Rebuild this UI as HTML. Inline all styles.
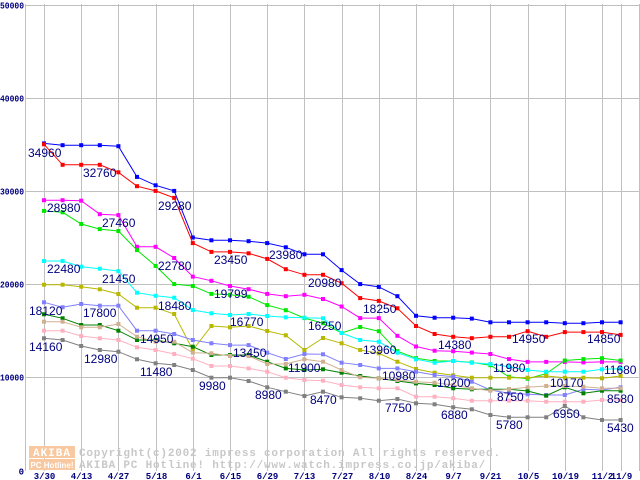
<!DOCTYPE html>
<html><head><meta charset="utf-8">
<style>
html,body{margin:0;padding:0;background:#fff;}
svg{display:block;}
</style></head>
<body>
<svg id="chart" width="640" height="480" xmlns="http://www.w3.org/2000/svg">
  <g id="grid"></g>
  <g id="yaxis"></g>
  <g id="xaxis"></g>
  <g id="watermark">
    <rect x="29" y="446" width="46" height="12" fill="#f8c8a0"/>
    <text x="52" y="456" text-anchor="middle" font-family="Liberation Mono, monospace" font-weight="bold" font-size="11" fill="#fff" letter-spacing="1">AKIBA</text>
    <rect x="29" y="459" width="46" height="11" fill="#f8c8a0"/>
    <text x="52" y="468" text-anchor="middle" font-family="Liberation Sans, sans-serif" font-weight="bold" font-size="8" fill="#fff">PC Hotline!</text>
    <text x="79" y="456" font-family="Liberation Mono, monospace" font-weight="bold" font-size="11" fill="#c8c8c8" letter-spacing="0.8">Copyright(c)2002 impress corporation All rights reserved.</text>
    <text x="79" y="468" font-family="Liberation Mono, monospace" font-weight="bold" font-size="11" fill="#c8c8c8" letter-spacing="0.8">AKIBA PC Hotline!  http://www.watch.impress.co.jp/akiba/</text>
  </g>
  <g id="series"></g>
  <g id="labels"></g>
</svg>
<script>
const yTicks = [0, 10000, 20000, 30000, 40000, 50000];
const xTickLabels = ["3/30","4/13","4/27","5/18","6/1","6/15","6/29","7/13","7/27","8/10","8/24","9/7","9/21","10/5","10/19","11/2","11/9"];
const xTickIndex = [0,2,4,6,8,10,12,14,16,18,20,22,24,26,28,30,31];
const seriesColors = ["#0000ff","#ff0000","#ff00ff","#00e800","#00ffff","#b8b800","#8080ff","#008000","#d0b090","#ffb0c0","#808080"];
const seriesNames = ["blue","red","magenta","green","cyan","olive","periwinkle","dark-green","tan","pink","gray"];
const sBlue = [35100,34900,34900,34900,34800,31500,30600,30000,25000,24700,24700,24600,24400,23950,23200,23200,21500,20000,19700,18700,16600,16400,16400,16300,15900,15900,15900,15900,15800,15800,15900,15900];
const sRed = [35000,32800,32800,32800,32000,30500,30000,29250,24400,23450,23450,23300,22700,21600,21000,21000,20100,18500,18200,17400,15500,14650,14350,14200,14350,14350,14950,14350,14850,14850,14850,14550];
const sMagenta = [29000,29000,28950,27500,27400,24000,24000,22800,20800,20350,19800,19450,18950,18700,18850,18400,17600,16350,16350,14450,13300,12850,12800,12650,12500,11950,11650,11650,11650,11600,11650,11650];
const sGreen = [27850,27700,26450,25900,25700,23650,21950,20000,19800,18950,18850,18650,17750,17200,16350,15800,14750,15400,14950,12800,12050,11750,11750,11600,11300,10050,9850,10400,11800,11950,12050,11800];
const sCyan = [22480,22480,21870,21650,21400,19080,18750,18540,17220,16870,16680,16790,16580,16440,16400,16330,14750,14000,13820,12640,11930,11570,11750,11570,11430,11140,10780,10600,10600,10600,10860,10920];
const sOlive = [19940,19940,19720,19440,18940,17470,17470,16790,12930,15500,15370,15500,14970,14510,12930,14220,13650,12930,12570,11670,10890,10490,10210,9960,9960,9960,9960,10140,9960,9960,9890,10140];
const sPeri = [18050,17510,17870,17680,17680,15000,15000,14650,14000,13650,13460,13460,12640,11960,12500,12470,11570,11320,10960,10960,10600,10250,10070,9530,8640,8280,8180,8100,8100,8710,8640,8930];
const sDkGreen = [16760,16330,15610,15610,15000,14000,14000,13650,13280,12390,12390,12390,11670,10960,10780,10860,10490,10140,9890,9600,9350,9170,8820,8710,8710,8710,8530,8030,8930,8280,8560,8560];
const sTan = [15970,15970,15370,15370,15720,14360,13820,13820,12640,12570,12290,12290,11430,11430,11930,11670,10780,10000,9890,9710,9530,9420,9170,8820,8560,8710,8930,9070,9070,8990,8820,8820];
const sPink = [15000,15000,14430,14180,14000,13220,12930,12500,12000,11210,11210,10960,10600,9960,9710,9640,9170,8930,8820,8820,7920,7920,7750,7490,7490,7490,7490,7380,7380,7380,7560,7560];
const sGray = [14180,14000,13360,12930,12750,11930,11500,11320,10780,9960,9960,9600,8930,8460,7990,8460,7850,7750,7490,7670,7210,7100,6780,6570,5960,5710,5710,5710,6920,5710,5420,5420];
const labelTexts = ["34960","32760","29280","28980","27460","22480","21450","22780","23450","23980","20980","19799","18480","18120","17800","16770","16250","14950","14160","13450","12980","11480","11900","9980","8980","8470","18250","13960","14380","14950","14850","10980","10200","11980","11680","10170","8750","8580","7750","6880","5780","6950","5430"];
const labelX = [28,83,158,47,102,47,102,158,214,269,308,214,158,29,83,230,308,140,29,233,84,140,288,199,255,310,363,363,438,512,587,382,437,493,604,550,497,607,385,441,496,553,607];
const labelY = [157,177,210,212,227,273,283,270,264,259,287,298,310,315,317,326,330,343,351,357,363,376,372,390,399,404,313,354,349,343,343,380,387,372,374,387,401,403,412,419,429,418,432];

const allSeries = [sBlue,sRed,sMagenta,sGreen,sCyan,sOlive,sPeri,sDkGreen,sTan,sPink,sGray];
const NS = "http://www.w3.org/2000/svg";
function yScale(v){ return 470.5 - v * 466 / 50000; }
function xScale(i){ return 44 + i * 18.6; }
function mk(tag, attrs, parent){ const e = document.createElementNS(NS, tag); for (const k in attrs) e.setAttribute(k, attrs[k]); parent.appendChild(e); return e; }

const grid = document.getElementById('grid');
const yaxis = document.getElementById('yaxis');
const xaxis = document.getElementById('xaxis');
const lb = mk('line', {x1:25.5, x2:25.5, y1:4, y2:471, stroke:'#c0c0c0', 'stroke-width':1}, grid);


const rb = mk('line', {x1:639.5, x2:639.5, y1:4, y2:471, stroke:'#c0c0c0', 'stroke-width':1}, grid);


yTicks.forEach(function(t){
  const y = Math.round(yScale(t)) + 0.5;
  if (t > 0) {
    const gl = mk('line', {x1:25, x2:640, y1:y, y2:y, stroke:'#c0c0c0', 'stroke-width':1}, grid);
    
    
  }
  const s = String(t);
  const attrs = {x:25, y:y+3, 'text-anchor':'end', 'font-family':'Liberation Mono, monospace', 'font-weight':'bold', 'font-size':'9', fill:'#000080'};
  if (s.length > 1) { attrs.x = 0; attrs['text-anchor'] = 'start'; attrs.textLength = 24; attrs.lengthAdjust = 'spacingAndGlyphs'; }
  else { attrs.x = 24; }
  const tx = mk('text', attrs, yaxis);
  tx.textContent = s;
  
  
});
xTickLabels.forEach(function(lab, k){
  const x = Math.round(xScale(xTickIndex[k])) + 0.5;
  const gl = mk('line', {x1:x, x2:x, y1:4, y2:471, stroke:'#c0c0c0', 'stroke-width':1}, grid);
  
  
  const tx = mk('text', {x:x, y:479, 'text-anchor':'middle', 'font-family':'Liberation Mono, monospace', 'font-weight':'bold', 'font-size':'9', fill:'#000080'}, xaxis);
  tx.textContent = lab;
  
  
});

const sg = document.getElementById('series');
allSeries.forEach(function(vals, si){
  const g = mk('g', {}, sg);
  
  
  const pts = vals.map(function(v, i){ return xScale(i).toFixed(1) + ',' + yScale(v).toFixed(1); }).join(' ');
  const pl = mk('polyline', {points:pts, fill:'none', stroke:seriesColors[si], 'stroke-width':1}, g);
  
  
  vals.forEach(function(v, i){
    const r = mk('rect', {x:(xScale(i)-2).toFixed(1), y:(yScale(v)-2).toFixed(1), width:4, height:4, fill:seriesColors[si]}, g);
    
    
  });
});

const lg = document.getElementById('labels');
labelTexts.forEach(function(t, i){
  const tx = mk('text', {x:labelX[i], y:labelY[i], 'font-family':'Liberation Sans, sans-serif', 'font-size':'12', fill:'#000080'}, lg);
  tx.textContent = t;
  
  
});
</script>
</body></html>
